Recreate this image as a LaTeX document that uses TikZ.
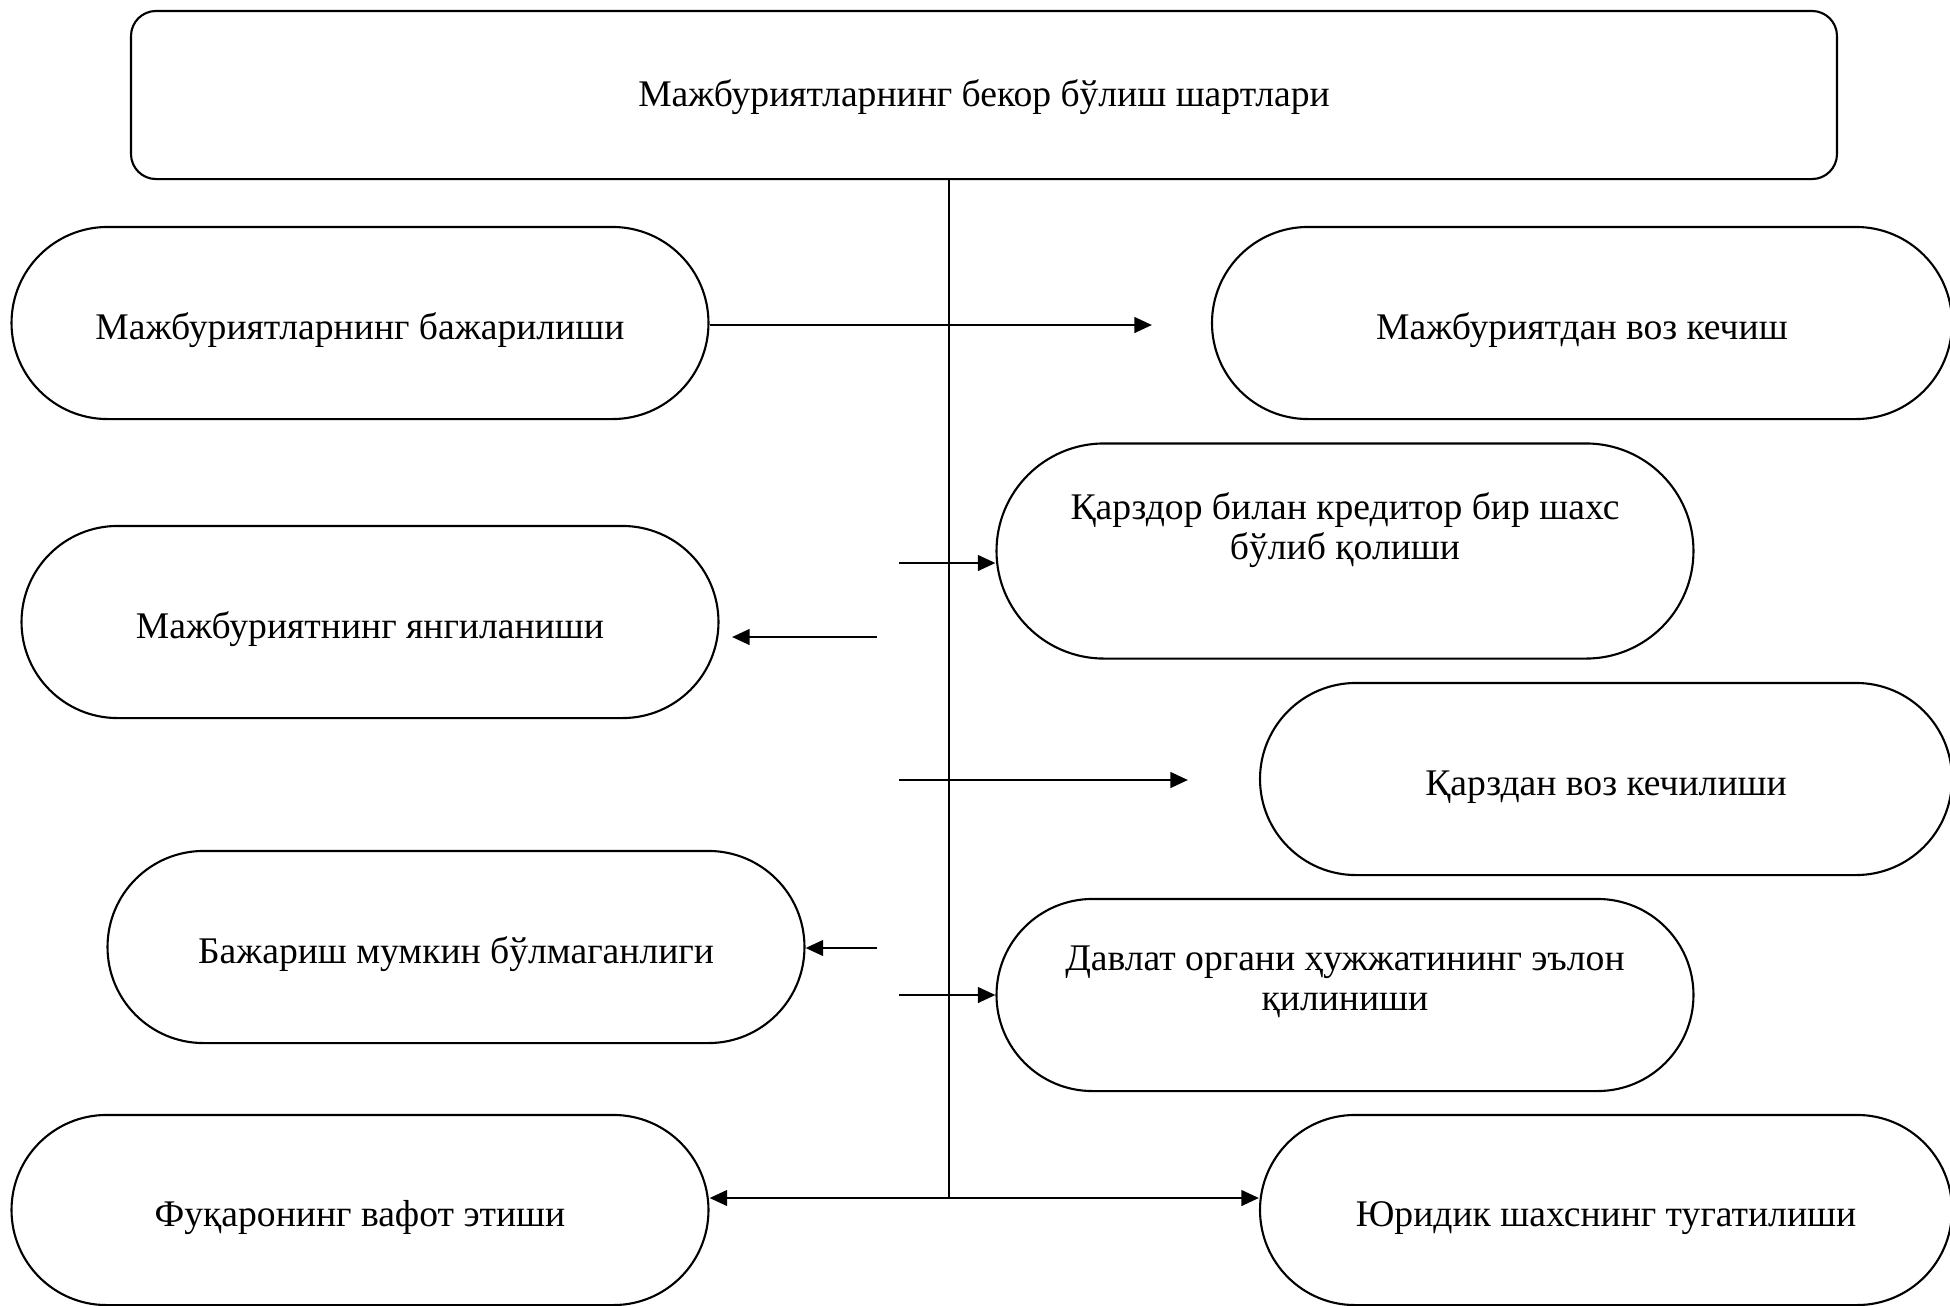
\documentclass[tikz,border=0pt]{standalone}
\usepackage{fontspec}
\setmainfont{Liberation Serif}
\usetikzlibrary{shapes.misc}
\usetikzlibrary{arrows.meta}
\usetikzlibrary{positioning}

\begin{document}
\begin{tikzpicture}[x=0.01cm,y=-0.01cm,>={Triangle[length=5pt,width=4.4pt]},
	cond node/.style={rounded rectangle,draw,line width=0.6pt,minimum width=7.2cm,
		minimum height=1.92cm,align=center,text height=12pt,text depth=2.7pt,
		font=\fontsize{10.7}{11.6}\selectfont},
	head node/.style={rectangle,rounded corners=0.25cm,draw,line width=0.6pt,
		minimum width=17.05cm,minimum height=1.68cm,text height=9.5pt,text depth=2.7pt,
		font=\fontsize{10.7}{11.6}\selectfont},
	link/.style={->,line width=0.8pt}]

	\useasboundingbox (0,0) rectangle (1950,1305);

	\node[head node] (top) at (984,95) {Мажбуриятларнинг бекор бўлиш шартлари};

	\node[cond node] (bajar) at (360,323) {Мажбуриятларнинг бажарилиши};
	\node[cond node, minimum width=7.63cm] (voz) at (1582,323) {Мажбуриятдан воз кечиш};
	\node[cond node, minimum height=2.15cm, text height=22pt, text depth=17pt] (qarzdor) at (1345,551)
		{Қарздор билан кредитор бир шахс\\ бўлиб қолиши};
	\node[cond node] (yangi) at (370,622) {Мажбуриятнинг янгиланиши};
	\node[cond node, minimum width=7.15cm] (qarzdan) at (1606,779) {Қарздан воз кечилиши};
	\node[cond node] (mumkin) at (456,947) {Бажариш мумкин бўлмаганлиги};
	\node[cond node, text height=21pt, text depth=12pt] (davlat) at (1345,995)
		{Давлат органи ҳужжатининг эълон\\ қилиниши};
	\node[cond node, minimum height=1.9cm] (fuqaro) at (360,1210) {Фуқаронинг вафот этиши};
	\node[cond node, minimum width=7.15cm, minimum height=1.9cm] (yuridik) at (1606,1210)
		{Юридик шахснинг тугатилиши};

	% trunk and arrow ends
	\coordinate (trunk) at (949,1198);
	\coordinate (e1) at (1152,325);
	\coordinate (s2) at (899,563);
	\coordinate (s3) at (877,637);
	\coordinate (e3) at (732,637);
	\coordinate (s4) at (899,780);
	\coordinate (e4) at (1188,780);
	\coordinate (s5) at (877,948);
	\coordinate (s6) at (899,995);

	\draw[line width=0.6pt] (top.south -| trunk) -- (trunk);

	\path[link]
	(bajar.east |- e1) edge (e1)
	(s2) edge (s2 -| qarzdor.west)
	(s3) edge (e3)
	(s4) edge (e4)
	(s5) edge (s5 -| mumkin.east)
	(s6) edge (s6 -| davlat.west);

	\draw[link,<->] (fuqaro.east |- trunk) -- (yuridik.west |- trunk);
\end{tikzpicture}
\end{document}
